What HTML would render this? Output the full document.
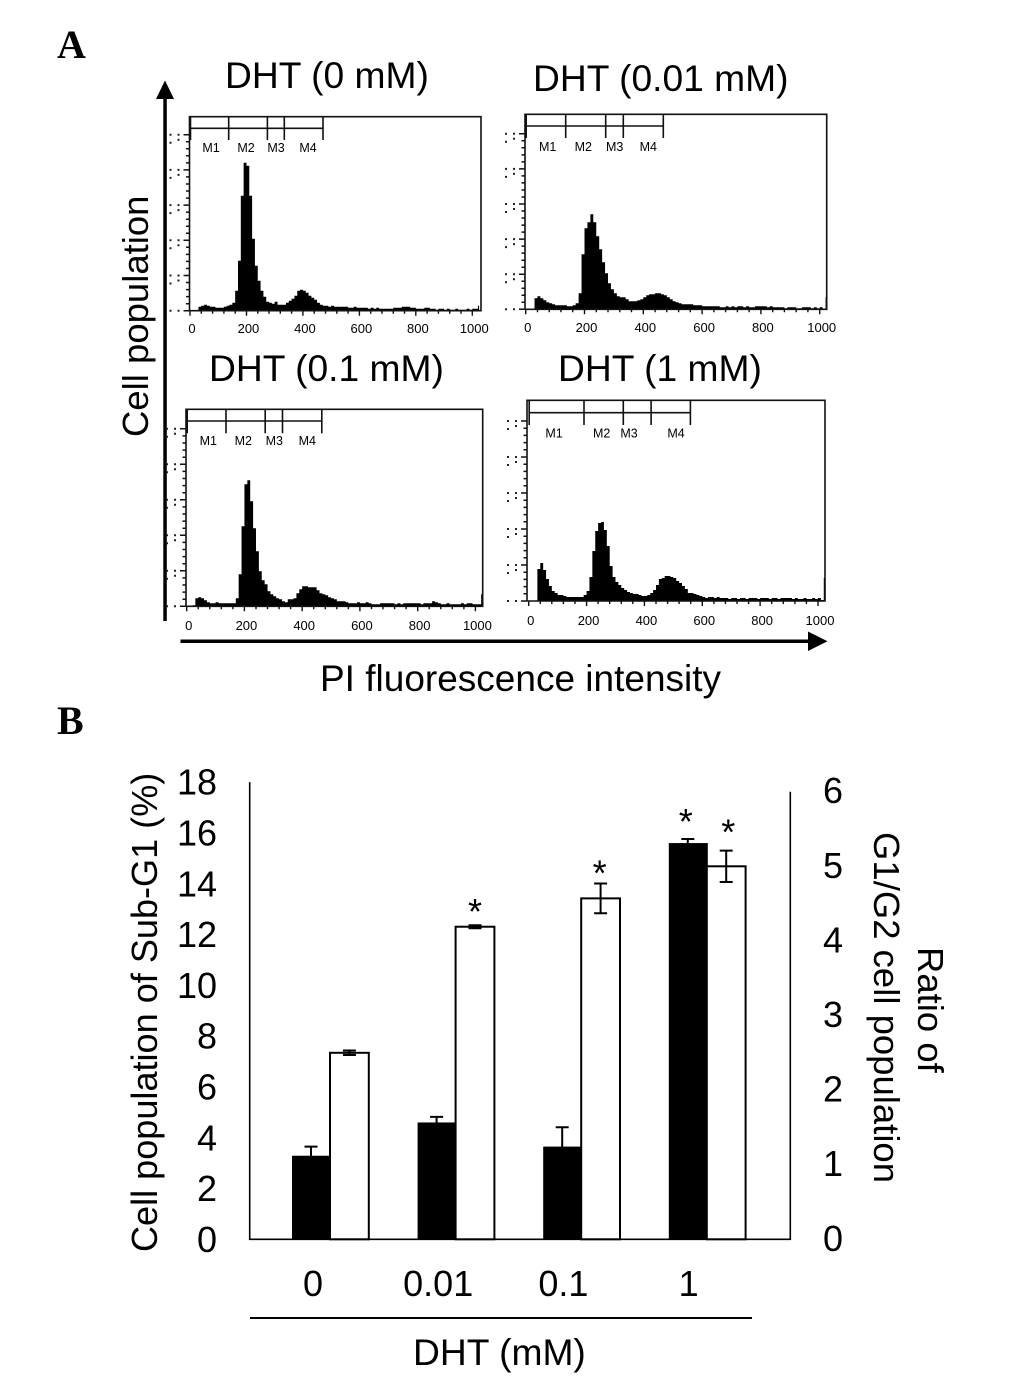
<!DOCTYPE html>
<html lang="en">
<head>
<meta charset="utf-8">
<title>DHT cell cycle figure</title>
<style>
html,body{margin:0;padding:0;background:#fff;}
svg{display:block;font-family:"Liberation Sans",Arial,sans-serif;fill:#000;}
.big{font-size:36px;}
.title{font-size:37.2px;}
.pi-title{font-size:37px;}
.axis-title{font-size:36.5px;}
.left-title{font-size:36.1px;}
.panel-letter{font-family:"Liberation Serif",serif;font-weight:bold;font-size:40px;}
.hist-tick{font-size:13px;}
.gate-label{font-size:12.5px;}
</style>
</head>
<body>
<svg id="figure" xmlns="http://www.w3.org/2000/svg" width="1033" height="1378" viewBox="0 0 1033 1378">
  <rect x="0" y="0" width="1033" height="1378" fill="#fff"/>
  <text class="panel-letter" x="57" y="58">A</text>
  <text class="panel-letter" x="57" y="734">B</text>

  <text class="title" x="225" y="88">DHT (0 mM)</text>
  <text class="title" x="533" y="91">DHT (0.01 mM)</text>
  <text class="title" x="209" y="381">DHT (0.1 mM)</text>
  <text class="title" x="558" y="381">DHT (1 mM)</text>

  <g>
    <rect x="163.3" y="95" width="3.5" height="526"/>
    <polygon points="165,80.5 174,99 156,99"/>
  </g>
  <g>
    <rect x="180.5" y="639.5" width="632" height="3.5"/>
    <polygon points="827.5,641.2 808,631.5 808,651"/>
  </g>
  <text class="axis-title" transform="translate(148,437) rotate(-90)">Cell population</text>
  <text class="pi-title" x="320" y="691">PI fluorescence intensity</text>

  <g id="hist-layer"></g>
  <g id="bar-layer"></g>

  <text class="left-title" transform="translate(157,1252) rotate(-90)">Cell population of Sub-G1 (%)</text>
  <text class="axis-title" transform="translate(918,947) rotate(90)">Ratio of</text>
  <text class="axis-title" transform="translate(874,832) rotate(90)">G1/G2 cell population</text>
  <rect x="250" y="1317" width="502" height="2"/>
  <text class="title" x="413" y="1365">DHT (mM)</text>
</svg>

<script>
// ---------- Panel A histogram data: counts per 10-channel bin ----------
const binWidth = 10;
const histTickLabels = [0, 200, 400, 600, 800, 1000];

const countsDht0 = [
  0,0,0,4,5,6,5,4,4,3,
  3,3,4,5,6,8,20,50,115,148,
  145,115,72,45,30,20,14,9,8,7,
  9,6,6,6,8,10,12,15,20,21,
  20,18,15,13,11,8,6,5,5,4,
  5,4,4,4,4,4,3,3,4,3,
  3,3,3,2,3,2,3,2,2,2,
  2,2,3,3,3,4,4,4,3,3,
  2,2,2,3,3,2,2,1,2,2,
  1,2,1,1,2,1,1,1,2,1,
  2,2,5
];
const countsDht001 = [
  0,0,0,11,13,11,9,7,6,5,
  4,4,4,4,3,3,4,6,16,55,
  81,87,95,87,73,60,47,36,26,20,
  16,13,12,12,10,8,8,8,9,10,
  12,14,15,15,16,16,15,14,12,10,
  8,7,6,5,5,5,5,4,4,4,
  3,3,3,3,3,3,2,2,3,2,
  3,2,3,3,2,3,2,2,3,3,
  3,3,2,3,2,2,2,2,1,2,
  2,2,1,1,2,2,2,1,2,1,
  2,0,12
];
const countsDht01 = [
  0,0,1,8,9,8,6,4,3,3,
  4,3,3,3,3,3,3,8,32,80,
  122,126,105,78,55,35,26,22,15,12,
  10,8,7,5,4,7,7,8,13,17,
  20,20,19,19,19,16,13,12,11,9,
  8,7,5,5,5,4,3,3,3,4,
  3,3,4,3,2,2,2,3,3,3,
  3,3,2,3,2,3,3,3,3,3,
  3,2,3,3,3,5,4,3,2,2,
  3,2,2,2,2,3,2,3,3,2,
  2,2,12
];
const countsDht1 = [
  0,0,0,32,38,31,22,15,10,8,
  6,6,5,4,4,4,4,4,4,6,
  10,24,50,70,78,79,71,55,35,24,
  19,16,13,11,9,8,7,7,6,5,
  5,6,8,11,16,22,23,25,25,24,
  23,20,18,15,12,8,8,7,6,5,
  4,3,4,4,3,4,3,3,3,2,
  3,3,2,3,3,2,3,3,3,2,
  3,3,3,2,3,3,2,3,3,3,
  3,2,3,2,2,3,2,2,3,2,
  3,1,23
];

// Gate boundaries (channels)
const gatesA = [0, 137, 274, 334, 471];
const gatesB = [0, 136, 272, 332, 468];
const gatesC = [0, 136, 272, 332, 468];
const gatesD = [0, 191, 327, 423, 559];
const gateNames = ["M1", "M2", "M3", "M4"];

// ---------- Panel B bar chart data ----------
const doseLabels = ["0", "0.01", "0.1", "1"];
const subG1Values = [3.29, 4.6, 3.65, 15.6];
const subG1Errors = [0.36, 0.22, 0.76, 0.16];
const ratioValues = [2.5, 4.19, 4.57, 5.0];
const ratioErrors = [0.03, 0.02, 0.2, 0.21];
const subG1Significant = [false, false, false, true];
const ratioSignificant = [false, true, true, true];
const leftTicks = [0, 2, 4, 6, 8, 10, 12, 14, 16, 18];
const rightTicks = [0, 1, 2, 3, 4, 5, 6];

const NS = "http://www.w3.org/2000/svg";
function make(tag, parent, attrs) {
  const el = document.createElementNS(NS, tag);
  for (const k in attrs) el.setAttribute(k, attrs[k]);
  parent.appendChild(el);
  return el;
}

// ---------- Panel A ----------
const histLayer = document.getElementById("hist-layer");

function drawHistogram(name, counts, gates, p) {
  const x = c => p.x0 + c * p.k;
  const y = v => p.base - v * (p.base - p.top) / p.yMax;

  const g = make("g", histLayer, {});
  
  

  // Filled histogram
  let d = "M" + x(0) + " " + p.base;
  counts.forEach((v, i) => {
    d += "L" + x(i * binWidth).toFixed(2) + " " + y(v).toFixed(2);
    d += "L" + x((i + 1) * binWidth - (i === counts.length - 1 ? 6 : 0)).toFixed(2) + " " + y(v).toFixed(2);
  });
  d += "L" + x((counts.length) * binWidth - 6).toFixed(2) + " " + p.base + "Z";
  const hist = make("path", g, { d: d, fill: "#000" });
  
  

  // Box: top, right, left, bottom
  const box = make("path", g, {
    d: `M${p.left} ${p.base}V${p.top}H${p.right}V${p.base}H${p.left}`,
    fill: "none", stroke: "#111", "stroke-width": 1.6
  });
  
  

  // Y ticks and the stray scanned specks beside them
  let yt = "", specks = "";
  for (let i = 0; i <= 25; i++) {
    const ty = p.base - i * p.yStep / 5;
    if (ty < p.top) break;
    yt += `M${p.left} ${ty.toFixed(1)}h${i % 5 === 0 ? -6 : -3.5}`;
    if (i % 5 === 0) {
      [-12, -20].forEach((dx, j) => {
        specks += `M${p.left + dx} ${(ty - 1).toFixed(1)}h2v2h-2z`;
        if (i > 0) specks += `M${p.left + dx} ${(ty + 4 + j * 3).toFixed(1)}h2v2h-2z`;
      });
    }
  }
  const yAxis = make("path", g, { d: yt, stroke: "#111", "stroke-width": 1.5, fill: "none" });
  
  
  const speckPath = make("path", g, { d: specks, fill: "#222" });
  
  

  // X ticks
  let xt = "";
  for (let c = 0; c <= 1000; c += 40) {
    xt += `M${x(c).toFixed(1)} ${p.base}v${c % 200 === 0 ? 5 : 3}`;
  }
  const xAxis = make("path", g, { d: xt, stroke: "#111", "stroke-width": 1.4, fill: "none" });
  
  

  histTickLabels.forEach(c => {
    const t = make("text", g, { x: x(c) + 2, y: p.labelY, "text-anchor": "middle", class: "hist-tick" });
    
    
    t.textContent = c;
  });

  // Gate bar
  const gateX0 = x(gates[0]) + 0.5;
  const gateX1 = x(gates[gates.length - 1]);
  let gd = `M${gateX0} ${p.gateY}H${gateX1}`;
  gates.forEach(c => { gd += `M${(c === 0 ? gateX0 : x(c)).toFixed(1)} ${p.top}V${p.gateEnd}`; });
  const gatePath = make("path", g, { d: gd, stroke: "#111", "stroke-width": 1.6, fill: "none" });
  
  

  gateNames.forEach((label, i) => {
    const t = make("text", g, { x: p.gateLabelX[i], y: p.gateLabelY, "text-anchor": "middle", class: "gate-label" });
    
    
    t.textContent = label;
  });
}

drawHistogram("histogram-dht-0", countsDht0, gatesA, {
  x0: 190, k: 0.2823, left: 189.5, right: 481, top: 116.7, base: 310.7, yMax: 194, yStep: 35.2,
  labelY: 333, gateY: 128.3, gateEnd: 140, gateLabelX: [211, 246, 276, 308], gateLabelY: 152
});
drawHistogram("histogram-dht-0-01", countsDht001, gatesB, {
  x0: 525.7, k: 0.294, left: 525, right: 826.7, top: 114.3, base: 309.3, yMax: 195, yStep: 35.1,
  labelY: 332, gateY: 126, gateEnd: 138, gateLabelX: [547.7, 583.3, 614.7, 648.3], gateLabelY: 151
});
drawHistogram("histogram-dht-0-1", countsDht01, gatesC, {
  x0: 186.7, k: 0.2887, left: 186, right: 482.7, top: 409.3, base: 606.3, yMax: 197, yStep: 35.5,
  labelY: 630, gateY: 421, gateEnd: 433.3, gateLabelX: [208.3, 243.3, 274.3, 307.3], gateLabelY: 445
});
drawHistogram("histogram-dht-1", countsDht1, gatesD, {
  x0: 528.7, k: 0.2893, left: 527, right: 825, top: 400.3, base: 601, yMax: 200.7, yStep: 36,
  labelY: 625, gateY: 412.7, gateEnd: 425, gateLabelX: [554, 601.7, 629, 676], gateLabelY: 437.5
});

// ---------- Panel B ----------
const barLayer = document.getElementById("bar-layer");
const plotLeft = 249.7, plotRight = 790.3, plotBase = 1239.3;
const yLeft = v => plotBase - v * 25.4;
const yRight = v => plotBase - v * 74.6;
const groupCenter = i => 330 + i * 125.6;
const blackW = 38;
const whiteW = 38.8;

const axes = make("path", barLayer, {
  d: `M${plotLeft} ${yLeft(18)}V${plotBase}H${plotRight}V${yRight(6)}`,
  fill: "none", stroke: "#000", "stroke-width": 1.6
});



leftTicks.forEach(v => {
  const t = make("text", barLayer, { x: 217, y: yLeft(v) + 12.6, "text-anchor": "end", class: "big" });
  
  
  t.textContent = v;
});
rightTicks.forEach(v => {
  const t = make("text", barLayer, { x: 833, y: yRight(v) + 11.5, "text-anchor": "middle", class: "big" });
  
  
  t.textContent = v;
});
doseLabels.forEach((lab, i) => {
  const t = make("text", barLayer, { x: 313 + i * 125.2, y: 1296, "text-anchor": "middle", class: "big" });
  
  
  t.textContent = lab;
});

function drawError(cx, yTop, yBottom, name) {
  const cap = 6.5;
  const p = make("path", barLayer, {
    d: `M${cx} ${yTop}V${yBottom}M${cx - cap} ${yTop}h${cap * 2}M${cx - cap} ${yBottom}h${cap * 2}`,
    stroke: "#000", "stroke-width": 2, fill: "none"
  });
  
  
}
function drawStar(cx, yText, name) {
  const t = make("text", barLayer, { x: cx, y: yText, "text-anchor": "middle", class: "big" });
  
  
  t.textContent = "*";
}

doseLabels.forEach((lab, i) => {
  const c = groupCenter(i);
  // Sub-G1: filled black, left axis
  const bx = c - blackW;
  const bt = yLeft(subG1Values[i]);
  const black = make("rect", barLayer, { x: bx, y: bt, width: blackW + 1, height: plotBase - bt, fill: "#000" });
  
  
  const blackCx = bx + blackW / 2;
  drawError(blackCx, yLeft(subG1Values[i] + subG1Errors[i]), yLeft(subG1Values[i] - subG1Errors[i]), 'error-bar-sub-g1');
  if (subG1Significant[i]) {
    drawStar(blackCx - 2, yLeft(subG1Values[i] + subG1Errors[i]) - 5, 'significance-star-sub-g1');
  }

  // G1/G2 ratio: white with outline, right axis
  const wt = yRight(ratioValues[i]);
  const white = make("rect", barLayer, { x: c, y: wt, width: whiteW, height: plotBase - wt, fill: "#fff", stroke: "#000", "stroke-width": 2 });
  
  
  const whiteCx = c + whiteW / 2;
  drawError(whiteCx, yRight(ratioValues[i] + ratioErrors[i]), yRight(ratioValues[i] - ratioErrors[i]), 'error-bar-ratio');
  if (ratioSignificant[i]) {
    const nudge = i === 3 ? -6 : (i === 2 ? 2 : -1);
    drawStar(whiteCx + (i === 3 ? 2 : (i === 2 ? -1 : 0)), yRight(ratioValues[i] + ratioErrors[i]) + nudge, 'significance-star-ratio');
  }
});
</script>
</body>
</html>
